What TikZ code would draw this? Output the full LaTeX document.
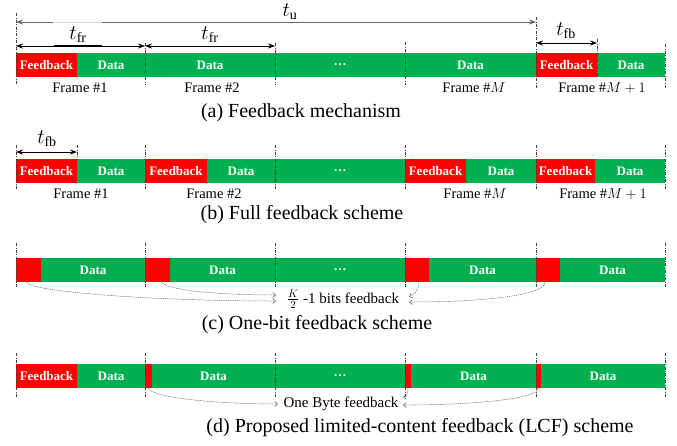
\documentclass[tikz,border=0pt]{standalone}
\usepackage{fontspec}
\setmainfont{Liberation Serif}
\usetikzlibrary{arrows.meta}
\definecolor{gr}{HTML}{00B050}
\definecolor{rd}{HTML}{FF0000}
\tikzset{
 blk/.style={draw=none, inner sep=0pt, outer sep=0pt, minimum height=24pt, text=white, font=\fontsize{13}{14}\selectfont\bfseries, anchor=west},
 fbk/.style={blk, fill=rd},
 dat/.style={blk, fill=gr},
 vline/.style={draw=black!75, line width=0.6pt, dash pattern=on 3pt off 1.5pt on 0.8pt off 1.5pt},
 dimarr/.style={line width=0.8pt, {Stealth[length=7pt,width=5pt]}-{Stealth[length=7pt,width=5pt]}},
 flab/.style={font=\fontsize{14.5}{16}\selectfont, inner sep=0pt},
 captxt/.style={font=\fontsize{20}{22}\selectfont, inner sep=0pt},
 tlab/.style={font=\fontsize{20}{22}\selectfont, inner sep=0pt},
 note/.style={font=\fontsize{15}{16}\selectfont, inner sep=0pt},
 fbarrow/.style={draw=black!65, dash pattern=on 1pt off 0.8pt, line width=0.5pt, -{Straight Barb[length=3pt,width=5pt]}},
}
\begin{document}
\begin{tikzpicture}[x=1pt,y=-1pt]
\useasboundingbox (0,0) rectangle (677,445);
% ---------- (a) ----------
\node[fbk, minimum width=61pt] (a1f) at (16,65) {Feedback};
\node[dat, minimum width=68pt] (a1d) at (77,65) {Data};
\node[dat, minimum width=130pt] (a2d) at (145,65) {Data};
\node[dat, minimum width=130pt] (a3d) at (275,65) {\dots};
\node[dat, minimum width=131pt] (aMd) at (405,65) {Data};
\node[fbk, minimum width=61pt] (aNf) at (536,65) {Feedback};
\node[dat, minimum width=68pt] (aNd) at (597,65) {Data};
\draw[vline] (16,13) -- (16,85);
\draw[vline] (145,43) -- (145,85);
\draw[vline] (275,43) -- (275,85);
\draw[vline] (405,42) -- (405,85);
\draw[vline] (536,17) -- (536,88);
\draw[vline] (597,39) -- (597,77);
\draw[vline] (665,44) -- (665,88);
\coordinate (tuL) at (16,22); \coordinate (tuR) at (536,22);
\draw[dimarr, draw=black!60] (tuL) -- (tuR);
\draw[line width=0.8pt, black!15] (53,22) -- (102,22);
\node[tlab] (tu) at (290,12) {$t_{\mathrm{u}}$};
\coordinate (f1L) at (16,46); \coordinate (f1R) at (145,46); \coordinate (f2R) at (275,46);
\draw[dimarr] (f1L) -- (f1R);
\draw[line width=2pt] (54,46) -- (102,46);
\draw[dimarr] (f1R) -- (f2R);
\node[tlab] (tfr1) at (78,35) {$t_{\mathrm{fr}}$};
\node[tlab] (tfr2) at (210,35) {$t_{\mathrm{fr}}$};
\coordinate (fbL) at (536,43); \coordinate (fbR) at (597,43);
\draw[dimarr] (fbL) -- (fbR);
\node[tlab] (tfb1) at (566,31) {$t_{\mathrm{fb}}$};
\node[flab] (af1) at (80,88) {Frame \#1};
\node[flab] (af2) at (212,88) {Frame \#2};
\node[flab] (afM) at (474,88) {Frame \#$M$};
\node[flab] (afN) at (602,88) {Frame \#$M+1$};
\node[captxt] (capa) at (301,113) {(a) Feedback mechanism};
% ---------- (b) ----------
\node[fbk, minimum width=61pt] (b1f) at (16,171) {Feedback};
\node[dat, minimum width=68pt] (b1d) at (77,171) {Data};
\node[fbk, minimum width=62pt] (b2f) at (145,171) {Feedback};
\node[dat, minimum width=68pt] (b2d) at (207,171) {Data};
\node[dat, minimum width=130pt] (b3d) at (275,171) {\dots};
\node[fbk, minimum width=61pt] (bMf) at (405,171) {Feedback};
\node[dat, minimum width=70pt] (bMd) at (466,171) {Data};
\node[fbk, minimum width=59pt] (bNf) at (536,171) {Feedback};
\node[dat, minimum width=70pt] (bNd) at (595,171) {Data};
\foreach \x in {16,145,275,405,536,665} \draw[vline] (\x,145) -- (\x,190);
\draw[vline] (77,145) -- (77,159);
\coordinate (bfbL) at (16,152); \coordinate (bfbR) at (77,152);
\draw[dimarr] (bfbL) -- (bfbR);
\node[tlab] (tfb2) at (47,139) {$t_{\mathrm{fb}}$};
\node[flab] (bf1) at (81,194) {Frame \#1};
\node[flab] (bf2) at (214,194) {Frame \#2};
\node[flab] (bfM) at (475,194) {Frame \#$M$};
\node[flab] (bfN) at (603,194) {Frame \#$M+1$};
\node[captxt] (capb) at (302,215) {(b) Full feedback scheme};
% ---------- (c) ----------
\node[fbk, minimum width=25pt] (c1f) at (16,270) {};
\node[dat, minimum width=104pt] (c1d) at (41,270) {Data};
\node[fbk, minimum width=25pt] (c2f) at (145,270) {};
\node[dat, minimum width=105pt] (c2d) at (170,270) {Data};
\node[dat, minimum width=130pt] (c3d) at (275,270) {\dots};
\node[fbk, minimum width=24pt] (cMf) at (405,270) {};
\node[dat, minimum width=107pt] (cMd) at (429,270) {Data};
\node[fbk, minimum width=24pt] (cNf) at (536,270) {};
\node[dat, minimum width=105pt] (cNd) at (560,270) {Data};
\foreach \x in {16,145,275,405,536,665} \draw[vline] (\x,243) -- (\x,288);
\node[note] (klab) at (343,299) {$\frac{K}{2}$ -1 bits feedback};
\coordinate (ce1) at (276,301); \coordinate (ce2) at (276,295);
\coordinate (ce3) at (409,297); \coordinate (ce4) at (409,302);
\draw[fbarrow] ([xshift=-2pt]c1f.south) .. controls +(3,10) and +(-120,0) .. (ce1);
\draw[fbarrow] ([xshift=4pt]c2f.south) .. controls +(5,8) and +(-60,0) .. (ce2);
\draw[fbarrow] ([xshift=2pt]cMf.south) .. controls +(0,9) and +(4,-2) .. (ce3);
\draw[fbarrow] ([xshift=-3pt]cNf.south) .. controls +(0,14) and +(70,0) .. (ce4);
\node[captxt] (capc) at (317,325) {(c) One-bit feedback scheme};
% ---------- (d) ----------
\node[fbk, minimum width=61pt] (d1f) at (16,376) {Feedback};
\node[dat, minimum width=68pt] (d1d) at (77,376) {Data};
\node[fbk, minimum width=7pt] (d2f) at (145,376) {};
\node[dat, minimum width=123pt] (d2d) at (152,376) {Data};
\node[dat, minimum width=130pt] (d3d) at (275,376) {\dots};
\node[fbk, minimum width=6pt] (dMf) at (405,376) {};
\node[dat, minimum width=125pt] (dMd) at (411,376) {Data};
\node[fbk, minimum width=5pt] (dNf) at (536,376) {};
\node[dat, minimum width=124pt] (dNd) at (541,376) {Data};
\foreach \x in {16,145,275,405,536,665} \draw[vline] (\x,353) -- (\x,397);
\node[note] (blab) at (341,404) {One Byte feedback};
\coordinate (de1) at (278,404); \coordinate (de2) at (403,397); \coordinate (de3) at (403,405);
\draw[fbarrow] (d2f.south) .. controls +(3,10) and +(-60,0) .. (de1);
\draw[fbarrow] (dMf.south) .. controls +(0,5) and +(3,0) .. (de2);
\draw[fbarrow] (dNf.south) .. controls +(0,12) and +(60,0) .. (de3);
\node[captxt] (capd) at (420,428) {(d) Proposed limited-content feedback (LCF) scheme};
\end{tikzpicture}
\end{document}
